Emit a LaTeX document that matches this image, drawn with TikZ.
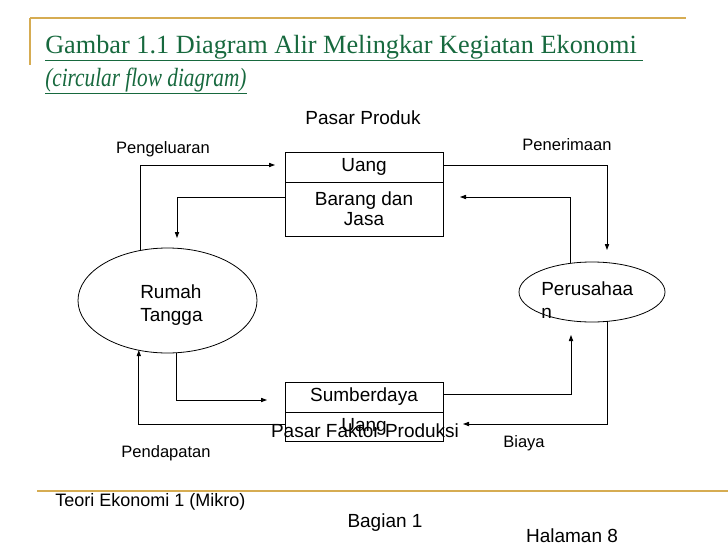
\documentclass[tikz,border=0pt]{standalone}
\usepackage{fontspec}
\setmainfont{Liberation Serif}
\setsansfont{Liberation Sans}
\usetikzlibrary{arrows.meta,shapes.geometric}

\definecolor{titlegreen}{RGB}{23,105,62}
\definecolor{rulegold}{RGB}{214,172,82}

\begin{document}
\begin{tikzpicture}[x=0.75pt,y=-0.75pt,
    flow/.style={line width=0.6pt,-{Triangle[length=4.5pt,width=3.2pt]}},
    cell/.style={draw,line width=0.6pt,minimum width=118.5pt,inner sep=0pt,outer sep=0pt,
        align=center,font=\sffamily\fontsize{14.25}{15}\selectfont},
    sector/.style={draw,ellipse,line width=0.6pt,inner sep=0pt,outer sep=0pt},
    lbl/.style={font=\sffamily\fontsize{12.4}{14}\selectfont,inner sep=0pt,anchor=base},
    big/.style={font=\sffamily\fontsize{14.25}{17.25}\selectfont,inner sep=0pt}]

    \useasboundingbox (0,0) rectangle (728,546);

    % Frame
    \draw[rulegold,line width=1.5pt] (30,18) -- (686,18);
    \draw[rulegold,line width=1.2pt] (30,18) -- (30,65);
    \draw[rulegold,line width=1.5pt] (37,491) -- (728,491);

    % Title
    \node[anchor=base west,inner sep=0pt,text=titlegreen,font=\fontsize{19.7}{22}\selectfont]
        (title) at (45,53) {\underline{Gambar 1.1 Diagram Alir Melingkar Kegiatan Ekonomi\ }};
    \node[anchor=base west,inner sep=0pt,text=titlegreen,font=\itshape\fontsize{19.7}{22}\selectfont]
        (subtitle) at (45,86) {\underline{\scalebox{0.81}[1]{(circular flow diagram)}}};

    % Markets
    \node[big,anchor=base] (pasarProduk) at (363,124) {Pasar Produk};
    \node[cell,minimum height=22.5pt] (uangA) at (364,167) {Uang};
    \node[cell,minimum height=40.5pt] (barang) at (364,209) {Barang dan\\Jasa};
    \node[cell,minimum height=22.5pt] (sumber) at (364,397) {Sumberdaya};
    \node[cell,minimum height=21.75pt] (uangB) at (364,426.5) {Uang};
    \node[big,anchor=base] (pasarFaktor) at (365,437) {Pasar Faktor Produksi};

    % Sectors
    \node[sector,minimum width=134.25pt,minimum height=78.75pt] (rumah) at (167.5,300.5) {};
    \node[big,align=left,anchor=west] (rumahTxt) at (140,305) {Rumah\\Tangga};
    \node[sector,minimum width=109.5pt,minimum height=45pt] (firm) at (592,292) {};
    \node[big,align=left,anchor=west] (firmTxt) at (541,300) {Perusahaa\\n};

    % Flows
    \coordinate (pengTip) at (275,165);
    \coordinate (jasaTip) at (177,238);
    \coordinate (firmTip) at (460,197);
    \coordinate (terimaTip) at (607,250);
    \coordinate (sumberTip) at (267,400);
    \coordinate (faktorTip) at (571,335);
    \coordinate (biayaTip) at (463,424);

    \draw[flow] (rumah.118.8) |- (pengTip);
    \draw[flow] ([yshift=9pt]barang.west) -| (jasaTip);
    \draw[flow] (firm.127.6) |- (firmTip);
    \draw[flow] ([yshift=1.5pt]uangA.east) -| (terimaTip);
    \draw[flow] (rumah.280.3) |- (sumberTip);
    \draw[flow] ([yshift=2.25pt]sumber.east) -| (faktorTip);
    \draw[flow] (firm.297.1) |- (biayaTip);
    \draw[flow] ([yshift=1.9pt]uangB.west) -| (rumah.240.2);

    % Labels
    \node[lbl] (pengeluaran) at (163,153) {Pengeluaran};
    \node[lbl] (penerimaan) at (567,150) {Penerimaan};
    \node[lbl] (pendapatan) at (166,457) {Pendapatan};
    \node[lbl] (biaya) at (524,447) {Biaya};

    % Footer
    \node[anchor=base west,inner sep=0pt,font=\sffamily\fontsize{13.5}{15}\selectfont]
        (teori) at (55,506) {Teori Ekonomi 1 (Mikro)};
    \node[big,anchor=base] (bagian) at (385,527) {Bagian 1};
    \node[big,anchor=base] (halaman) at (572,542) {Halaman 8};
\end{tikzpicture}
\end{document}
